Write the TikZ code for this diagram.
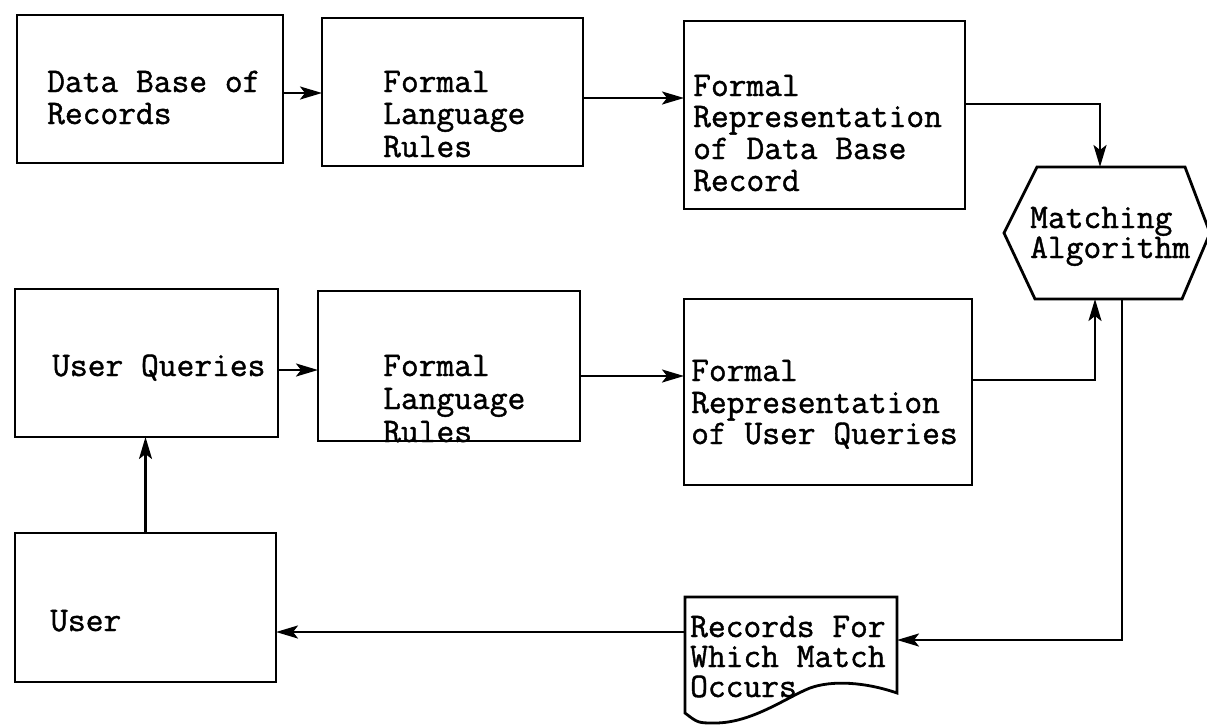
\documentclass[tikz,border=0pt]{standalone}
\usepackage{fontspec}
\usetikzlibrary{arrows.meta}
\newfontfamily\typewr{Latin Modern Mono}[FakeBold=1.2]
\tikzset{
  box/.style={draw, line width=2.8pt, inner sep=0pt, outer sep=0pt},
  area/.style={inner sep=0pt, outer sep=0pt},
  txt/.style={font=\typewr\bfseries\fontsize{34.5}{32}\selectfont, inner sep=0pt, anchor=base west},
  arr/.style={line width=2.4pt, -{Stealth[length=22pt,width=13pt,inset=5pt]}},
  outline/.style={line width=2.8pt, line join=miter}
}
\begin{document}
\begin{tikzpicture}[x=1pt,y=-1pt]
\useasboundingbox (0,0) rectangle (1207,724);
\fill[white] (0,0) rectangle (1207,724);

% boxes
\node[box, minimum width=266pt, minimum height=148pt] (b1) at (150,89) {};
\node[box, minimum width=261pt, minimum height=148pt] (b2) at (452.5,92) {};
\node[box, minimum width=281pt, minimum height=188pt] (b3) at (824.5,115) {};
\node[box, minimum width=263pt, minimum height=148pt] (b5) at (146.5,363) {};
\node[box, minimum width=262pt, minimum height=150pt] (b6) at (449,366) {};
\node[box, minimum width=288pt, minimum height=186pt] (b7) at (828,392) {};
\node[box, minimum width=261pt, minimum height=149pt] (b8) at (145.5,607.5) {};

% hexagon
\node[area, minimum width=205pt, minimum height=132pt] (hex) at (1106.5,233) {};
\draw[outline] (1037,167) -- (1185,167) -- (1210,233) -- (1182,299) -- (1035,299) -- (1004,233) -- cycle;

% document shape
\node[area, minimum width=212pt, minimum height=113pt] (doc) at (791,653.5) {};
\draw[outline] (685,597) -- (897,597) -- (897,693)
  .. controls (865,682) and (832,680) .. (810,688)
  .. controls (787,697) and (752,723) .. (715,723)
  .. controls (698,723) .. (685,713) -- cycle;

% texts
\node[txt] (t1a) at (47,92) {Data Base of};
\node[txt] (t1b) at (47,124) {Records};
\node[txt] (t2a) at (383,92) {Formal};
\node[txt] (t2b) at (383,124) {Language};
\node[txt] (t2c) at (383,157) {Rules};
\node[txt] (t3a) at (693,96) {Formal};
\node[txt] (t3b) at (693,127) {Representation};
\node[txt] (t3c) at (693,159) {of Data Base};
\node[txt] (t3d) at (693,191) {Record};
\node[txt] (th1) at (1030,228) {Matching};
\node[txt] (th2) at (1030,258) {Algorithm};
\node[txt] (t5a) at (52,376) {User Queries};
\node[txt] (t6a) at (383,376) {Formal};
\node[txt] (t6b) at (383,409) {Language};
\node[txt] (t6c) at (383,442) {Rules};
\node[txt] (t7a) at (691,381) {Formal};
\node[txt] (t7b) at (691,413) {Representation};
\node[txt] (t7c) at (691,444) {of User Queries};
\node[txt] (t8a) at (50,631) {User};
\node[txt] (tda) at (690,637) {Records For};
\node[txt] (tdb) at (690,667) {Which Match};
\node[txt] (tdc) at (690,697) {Occurs};

% connectors
\draw[arr] (b1.east |- 0,93) -- (b2.west |- 0,93);
\draw[arr] (b2.east |- 0,98) -- (b3.west |- 0,98);
\draw[arr] (b3.east |- 0,104) -| ([xshift=-6.5pt]hex.north);
\draw[arr] (b5.east |- 0,370) -- (b6.west |- 0,370);
\draw[arr] (b6.east |- 0,376) -- (b7.west |- 0,376);
\draw[arr] (b7.east |- 0,380) -| ([xshift=-11.5pt]hex.south);
\draw[arr] ([xshift=15.5pt]hex.south) |- (doc.east |- 0,640);
\draw[arr] (doc.west |- 0,632) -- (b8.east |- 0,632);
\draw[arr] (b8.north) -- (b8.north |- b5.south);
\end{tikzpicture}
\end{document}
